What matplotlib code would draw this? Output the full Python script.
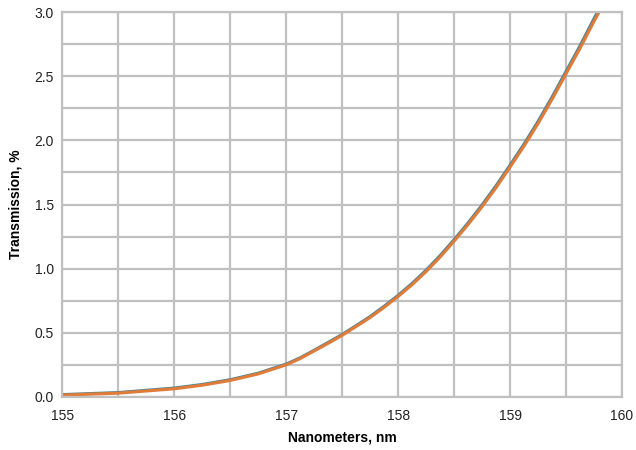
import matplotlib.pyplot as plt
import numpy as np

plt.rcParams['font.family'] = ['Liberation Sans', 'DejaVu Sans']

wavelength = [155.0, 155.5, 156.0, 156.25, 156.5, 156.75, 157.0, 157.125, 157.25,
              157.375, 157.5, 157.625, 157.75, 157.875, 158.0, 158.125, 158.25,
              158.375, 158.5, 158.625, 158.75, 158.875, 159.0, 159.125, 159.25,
              159.375, 159.5, 159.625, 159.75, 159.85]
trans_a = [0.018, 0.034, 0.069, 0.097, 0.134, 0.185, 0.256, 0.305, 0.364, 0.425,
           0.487, 0.556, 0.627, 0.707, 0.792, 0.885, 0.988, 1.102, 1.226, 1.357,
           1.497, 1.647, 1.807, 1.972, 2.148, 2.338, 2.538, 2.738, 2.95, 3.11]
trans_b = [0.014, 0.029, 0.063, 0.091, 0.128, 0.179, 0.25, 0.299, 0.358, 0.418,
           0.48, 0.549, 0.619, 0.698, 0.783, 0.875, 0.977, 1.09, 1.214, 1.344,
           1.483, 1.632, 1.792, 1.956, 2.131, 2.32, 2.519, 2.718, 2.928, 3.088]

fig, ax = plt.subplots(figsize=(6.36, 4.5), dpi=100)
fig.subplots_adjust(left=0.098, right=0.978, top=0.973, bottom=0.118)

ax.plot(wavelength, trans_a, color='#4f8496', lw=2.2, solid_capstyle='butt')
ax.plot(wavelength, trans_b, color='#e07c38', lw=2.2, solid_capstyle='butt')

ax.set_xlim(155, 160)
ax.set_ylim(0, 3.0)
ax.set_xticks(np.arange(155, 160.1, 1))
ax.set_xticks(np.arange(155, 160.1, 0.5), minor=True)
ax.set_yticks(np.arange(0, 3.01, 0.5))
ax.set_yticks(np.arange(0, 3.01, 0.25), minor=True)
ax.set_xticklabels(['155', '156', '157', '158', '159', '160'])
ax.set_yticklabels(['0.0', '0.5', '1.0', '1.5', '2.0', '2.5', '3.0'])
ax.grid(which='both', color='#c0c0c0', lw=1.6)
ax.set_axisbelow(True)
ax.tick_params(which='both', length=0, labelsize=10, colors='#222222')
ax.tick_params(axis='x', pad=9)
ax.tick_params(axis='y', pad=6)
for s in ax.spines.values():
    s.set_color('#c0c0c0')
    s.set_linewidth(1.6)

ax.set_xlabel('Nanometers, nm', fontsize=10, fontweight='bold', labelpad=5)
ax.set_ylabel('Transmission, %', fontsize=10, fontweight='bold', labelpad=9)

fig.savefig('out.png', dpi=100)
